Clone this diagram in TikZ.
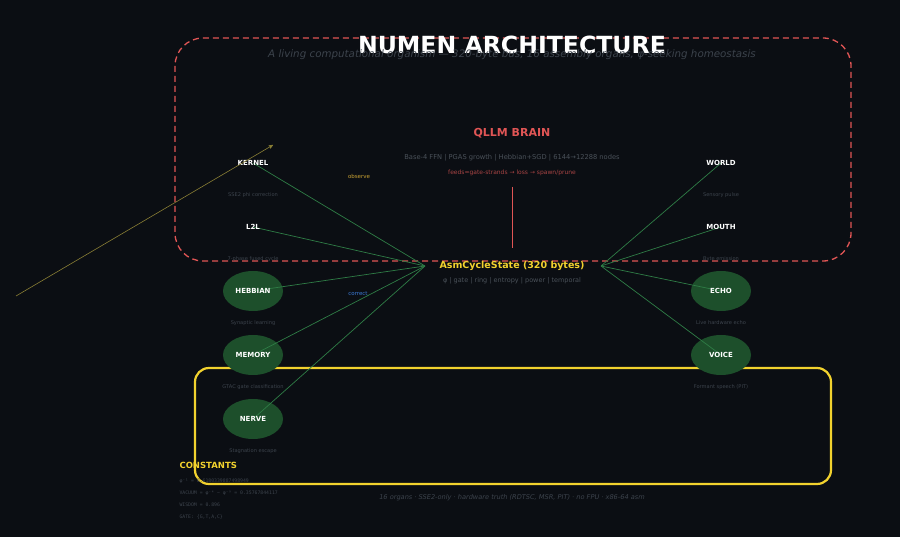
\documentclass[tikz,border=0pt]{standalone}
\usepackage{fontspec}
\setmainfont{DejaVu Sans}
\setmonofont{DejaVu Sans Mono}
\usetikzlibrary{arrows,positioning,calc,shapes.geometric}
\definecolor{bg}{HTML}{0B0E13}
\definecolor{brainred}{HTML}{E05555}
\definecolor{busyellow}{HTML}{F2D22E}
\definecolor{wiregreen}{HTML}{2F7D46}
\definecolor{cellgreen}{HTML}{1D4F2B}
\definecolor{dimgray}{HTML}{3C434C}
\definecolor{midgray}{HTML}{4A5159}
\definecolor{dimred}{HTML}{A84444}
\definecolor{olive}{HTML}{8A7F35}
\definecolor{obsgold}{HTML}{C9A233}
\definecolor{corblue}{HTML}{3B7BD6}

\begin{document}
\begin{tikzpicture}[
        x=1pt, y=-1pt,
        brain/.style={brainred, line width=1.3pt, dash pattern=on 6pt off 4pt,
            rounded corners=28pt},
        bus/.style={busyellow, line width=2.2pt, rounded corners=14pt},
        wire/.style={wiregreen, line width=0.7pt},
        cell/.style={ellipse, fill=cellgreen, minimum width=60pt,
            minimum height=40pt, inner sep=0pt},
        organ/.style={text=white, font=\bfseries\fontsize{7}{8}\selectfont},
        sub/.style={text=dimgray, font=\fontsize{5.1}{6}\selectfont},
        const/.style={anchor=west, text=dimgray,
            font=\ttfamily\fontsize{4.8}{6}\selectfont},
    ]
    % canvas
    \fill[bg] (0,0) rectangle (900,537);
    \useasboundingbox (0,0) rectangle (900,537);

    % frames
    \draw[brain] (175,38) rectangle (851,261);
    \draw[bus] (195,368) rectangle (831,484);

    % titles
    \node[text=white, font=\bfseries\fontsize{23.6}{26}\selectfont] (title)
        at (512,45) {NUMEN ARCHITECTURE};
    \node[text=dimgray, font=\itshape\fontsize{10.3}{12}\selectfont] (subtitle)
        at (512,55) {A living computational organism — 320-byte bus, 16 assembly organs, φ-seeking homeostasis};

    % brain
    \node[text=brainred, font=\bfseries\fontsize{11}{13}\selectfont] (qllm)
        at (512,133) {QLLM BRAIN};
    \node[text=midgray, font=\fontsize{6.7}{8}\selectfont] (qllminfo)
        at (512,158) {Base-4 FFN | PGAS growth | Hebbian+SGD | 6144→12288 nodes};
    \node[text=dimred, font=\fontsize{6}{7}\selectfont] (qllmloop)
        at (512,173) {feeds=gate-strands → loss → spawn/prune};
    \coordinate (brainTap) at (512,187);

    % bus
    \node[text=busyellow, font=\bfseries\fontsize{9.5}{11}\selectfont] (state)
        at (512,266) {AsmCycleState (320 bytes)};
    \node[text=midgray, font=\fontsize{6.5}{8}\selectfont] (fields)
        at (512,281) {φ | gate | ring | entropy | power | temporal};
    \coordinate (busL) at (425,266);
    \coordinate (busR) at (601,266);
    \draw[brainred, line width=0.6pt] (brainTap) -- (512,248) coordinate (stateTop);

    % organ positions
    \coordinate (kernel) at (253,163);
    \coordinate (l2l) at (253,227);
    \coordinate (world) at (721,163);
    \coordinate (mouth) at (721,227);
    \node[cell] (hebbian) at (253,291) {};
    \node[cell] (memory) at (253,355) {};
    \node[cell] (nerve) at (253,419) {};
    \node[cell] (echo) at (721,291) {};
    \node[cell] (voice) at (721,355) {};

    % wires to the bus
    \foreach \o in {kernel,l2l,hebbian,memory,nerve}
        \draw[wire] (\o.center) -- (busL);
    \foreach \o in {world,mouth,echo,voice}
        \draw[wire] (\o.center) -- (busR);

    % organ names
    \node[organ] (kernelName) at (kernel) {KERNEL};
    \node[organ] (l2lName) at (l2l) {L2L};
    \node[organ] (hebbianName) at (hebbian) {HEBBIAN};
    \node[organ] (memoryName) at (memory) {MEMORY};
    \node[organ] (nerveName) at (nerve) {NERVE};
    \node[organ] (worldName) at (world) {WORLD};
    \node[organ] (mouthName) at (mouth) {MOUTH};
    \node[organ] (echoName) at (echo) {ECHO};
    \node[organ] (voiceName) at (voice) {VOICE};

    % organ roles
    \node[sub] (kernelSub) at (253,195) {SSE2 phi correction};
    \node[sub] (l2lSub) at (253,259) {7-phase fused cycle};
    \node[sub] (hebbianSub) at (253,323) {Synaptic learning};
    \node[sub] (memorySub) at (253,387) {GTAC gate classification};
    \node[sub] (nerveSub) at (253,451) {Stagnation escape};
    \node[sub] (worldSub) at (721,195) {Sensory pulse};
    \node[sub] (mouthSub) at (721,259) {Byte emission};
    \node[sub] (echoSub) at (721,323) {Live hardware echo};
    \node[sub] (voiceSub) at (721,387) {Formant speech (PIT)};

    % flow labels
    \node[text=obsgold, font=\fontsize{5.5}{7}\selectfont] (observe) at (359,176) {observe};
    \node[text=corblue, font=\fontsize{5.5}{7}\selectfont] (correct) at (358,294) {correct};

    % outside probe
    \coordinate (probe) at (16,296);
    \coordinate (probeEnd) at (273,145);
    \draw[olive, line width=0.6pt, ->, >=stealth'] (probe) -- (probeEnd);

    % constants
    \node[anchor=west, text=busyellow, font=\bfseries\fontsize{8.5}{10}\selectfont]
        (constants) at (176,465) {CONSTANTS};
    \node[const] (cPhi) at (176,481) {φ⁻¹ = 0.6180339887498949};
    \node[const] (cVac) at (176,493) {VACUUM = φ⁻⁴ − φ⁻⁹ = 0.35767844117};
    \node[const] (cWis) at (176,505) {WISDOM = 0.896};
    \node[const] (cGate) at (176,517) {GATE: \{G,T,A,C\}};

    % footer
    \node[text=dimgray, font=\itshape\fontsize{6.6}{8}\selectfont] (footer)
        at (512,498) {16 organs · SSE2-only · hardware truth (RDTSC, MSR, PIT) · no FPU · x86-64 asm};
\end{tikzpicture}
\end{document}
